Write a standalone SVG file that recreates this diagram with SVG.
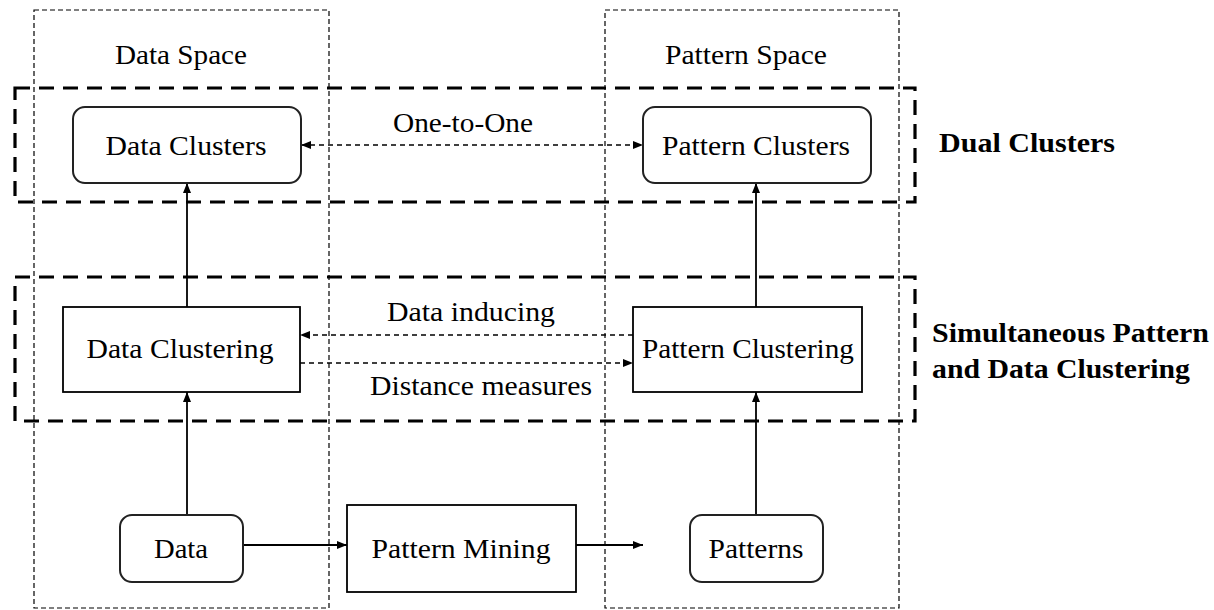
<svg xmlns="http://www.w3.org/2000/svg" width="1214" height="610" viewBox="0 0 1214 610">
<defs>
<marker id="ah" viewBox="0 0 10 8" refX="10" refY="4" markerWidth="10" markerHeight="8" markerUnits="userSpaceOnUse" orient="auto-start-reverse">
<path d="M0,0 L10,4 L0,8 z" fill="#000"/>
</marker>
<style>
.space{fill:none;stroke:#000;stroke-width:1.2;stroke-dasharray:5 3}
.group{fill:none;stroke:#000;stroke-width:3.2;stroke-dasharray:15 9}
.rnd{fill:#fff;stroke:#222;stroke-width:2}
.box{fill:#fff;stroke:#000;stroke-width:1.8}
.t{font-family:'Liberation Serif',serif;font-size:27px;fill:#000;text-anchor:middle}
.b{font-family:'Liberation Serif',serif;font-size:28px;font-weight:bold;fill:#000}
.solid{stroke:#000;stroke-width:1.8;fill:none}
.dash{stroke:#000;stroke-width:1.3;fill:none;stroke-dasharray:5 4}
</style>
</defs>
<rect width="1214" height="610" fill="#fff"/>

<g id="data-space">
<rect class="space" x="34" y="10" width="295" height="598"/>
<text class="t" x="181" y="64" textLength="132" lengthAdjust="spacingAndGlyphs">Data Space</text>
</g>
<g id="pattern-space">
<rect class="space" x="605" y="10" width="294" height="598"/>
<text class="t" x="746" y="64" textLength="162" lengthAdjust="spacingAndGlyphs">Pattern Space</text>
</g>

<g id="dual-clusters-group">
<rect class="group" x="15" y="88" width="900" height="114"/>
<text class="b" x="939" y="152" textLength="176" lengthAdjust="spacingAndGlyphs">Dual Clusters</text>
</g>
<g id="simultaneous-group">
<rect class="group" x="15" y="277" width="900" height="144"/>
<text class="b" x="932" y="342" textLength="277" lengthAdjust="spacingAndGlyphs">Simultaneous Pattern</text>
<text class="b" x="932" y="378" textLength="258" lengthAdjust="spacingAndGlyphs">and Data Clustering</text>
</g>

<g id="connectors">
<line class="dash" x1="301" y1="145" x2="643" y2="145" marker-start="url(#ah)" marker-end="url(#ah)"/>
<line class="dash" x1="633" y1="335" x2="300" y2="335" marker-end="url(#ah)"/>
<line class="dash" x1="300" y1="363" x2="633" y2="363" marker-end="url(#ah)"/>
<line class="solid" x1="187" y1="515" x2="187" y2="392" marker-end="url(#ah)"/>
<line class="solid" x1="187" y1="307" x2="187" y2="183" marker-end="url(#ah)"/>
<line class="solid" x1="756" y1="515" x2="756" y2="392" marker-end="url(#ah)"/>
<line class="solid" x1="756" y1="307" x2="756" y2="183" marker-end="url(#ah)"/>
<line class="solid" x1="243" y1="545" x2="347" y2="545" marker-end="url(#ah)"/>
<line class="solid" x1="576" y1="545" x2="643" y2="545" marker-end="url(#ah)"/>
<text class="t" x="463" y="132" textLength="140" lengthAdjust="spacingAndGlyphs">One-to-One</text>
<text class="t" x="471" y="321" textLength="168" lengthAdjust="spacingAndGlyphs">Data inducing</text>
<text class="t" x="481" y="395" textLength="222" lengthAdjust="spacingAndGlyphs">Distance measures</text>
</g>

<g id="data-clusters">
<rect class="rnd" x="73" y="107" width="228" height="76" rx="12"/>
<text class="t" x="186" y="155" textLength="161" lengthAdjust="spacingAndGlyphs">Data Clusters</text>
</g>
<g id="pattern-clusters">
<rect class="rnd" x="643" y="107" width="228" height="76" rx="12"/>
<text class="t" x="756" y="155" textLength="188" lengthAdjust="spacingAndGlyphs">Pattern Clusters</text>
</g>
<g id="data-clustering">
<rect class="box" x="63" y="307" width="237" height="85"/>
<text class="t" x="180" y="358" textLength="187" lengthAdjust="spacingAndGlyphs">Data Clustering</text>
</g>
<g id="pattern-clustering">
<rect class="box" x="633" y="307" width="229" height="85"/>
<text class="t" x="748" y="358" textLength="212" lengthAdjust="spacingAndGlyphs">Pattern Clustering</text>
</g>
<g id="data">
<rect class="rnd" x="120" y="515" width="123" height="67" rx="12"/>
<text class="t" x="181" y="558" textLength="54" lengthAdjust="spacingAndGlyphs">Data</text>
</g>
<g id="pattern-mining">
<rect class="box" x="347" y="505" width="229" height="87"/>
<text class="t" x="461" y="558" textLength="179" lengthAdjust="spacingAndGlyphs">Pattern Mining</text>
</g>
<g id="patterns">
<rect class="rnd" x="690" y="515" width="133" height="67" rx="12"/>
<text class="t" x="756" y="558" textLength="95" lengthAdjust="spacingAndGlyphs">Patterns</text>
</g>
</svg>
